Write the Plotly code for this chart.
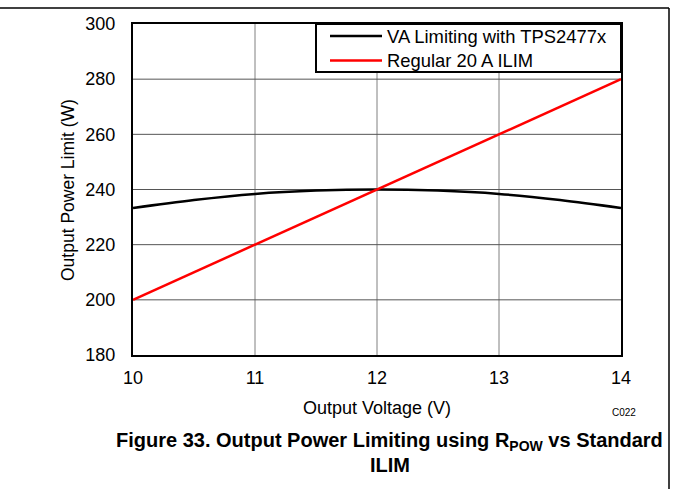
import plotly.graph_objects as go

# Series data
voltage_va = [10, 10.5, 11, 11.5, 12, 12.5, 13, 13.5, 14]
power_va = [233.3, 236.2, 238.4, 239.6, 240.0, 239.6, 238.4, 236.2, 233.3]
voltage_ilim = [10, 14]
power_ilim = [200, 280]

series_names = ["VA Limiting with TPS2477x", "Regular 20 A ILIM"]
series_colors = ["#000000", "#ff0000"]

x_ticks = [10, 11, 12, 13, 14]
y_ticks = [180, 200, 220, 240, 260, 280, 300]

W, H = 673, 489
L, R, T, B = 133, 621, 24, 355  # plot area in pixels
FONT = "Liberation Sans, Arial, sans-serif"


def px(x):
    return (x - L) / (R - L)


def py(y):
    return (B - y) / (B - T)


fig = go.Figure()
fig.add_trace(go.Scatter(x=voltage_va, y=power_va, mode="lines", name=series_names[0],
                         line=dict(color=series_colors[0], width=2.5, shape="spline"),
                         showlegend=False))
fig.add_trace(go.Scatter(x=voltage_ilim, y=power_ilim, mode="lines", name=series_names[1],
                         line=dict(color=series_colors[1], width=2.5),
                         showlegend=False))

shapes = []
annotations = []

# vertical / horizontal grid lines
for xv in x_ticks[1:-1]:
    shapes.append(dict(type="line", xref="x", yref="paper", x0=xv, x1=xv, y0=0, y1=1,
                       line=dict(color="#808080", width=1), layer="below"))
for yv in y_ticks[1:-1]:
    shapes.append(dict(type="line", xref="paper", yref="y", x0=0, x1=1, y0=yv, y1=yv,
                       line=dict(color="#555555", width=1), layer="below"))

# legend box
shapes.append(dict(type="rect", xref="paper", yref="paper",
                   x0=px(316), x1=px(621), y0=py(72), y1=py(24),
                   line=dict(color="black", width=2), fillcolor="white", layer="above"))
for i, (name, col) in enumerate(zip(series_names, series_colors)):
    yy = 36 + i * 24.5
    shapes.append(dict(type="line", xref="paper", yref="paper",
                       x0=px(330), x1=px(382), y0=py(yy), y1=py(yy),
                       line=dict(color=col, width=2.5), layer="above"))
    annotations.append(dict(xref="paper", yref="paper", x=px(385), y=py(yy),
                            xanchor="left", yanchor="middle", showarrow=False,
                            text=name, font=dict(family=FONT, size=18.4, color="black")))

# page frame
shapes.append(dict(type="line", xref="paper", yref="paper", x0=px(0), x1=px(669),
                   y0=py(8), y1=py(8), line=dict(color="black", width=1.5)))
shapes.append(dict(type="line", xref="paper", yref="paper", x0=px(669), x1=px(669),
                   y0=py(8), y1=py(489), line=dict(color="black", width=1.5)))

# axis titles
annotations.append(dict(xref="paper", yref="paper", x=px(377), y=py(408),
                        xanchor="center", yanchor="middle", showarrow=False,
                        text="Output Voltage (V)", font=dict(family=FONT, size=18, color="black")))
annotations.append(dict(xref="paper", yref="paper", x=px(68), y=py(190),
                        xanchor="center", yanchor="middle", showarrow=False, textangle=-90,
                        text="Output Power Limit (W)", font=dict(family=FONT, size=17.5, color="black")))
annotations.append(dict(xref="paper", yref="paper", x=px(624), y=py(412),
                        xanchor="center", yanchor="middle", showarrow=False,
                        text="C022", font=dict(family=FONT, size=10, color="black")))

# figure caption
annotations.append(dict(xref="paper", yref="paper", x=px(389), y=py(441),
                        xanchor="center", yanchor="middle", showarrow=False,
                        text="<b>Figure 33. Output Power Limiting using R<sub>POW</sub> vs Standard</b>",
                        font=dict(family=FONT, size=20, color="black")))
annotations.append(dict(xref="paper", yref="paper", x=px(390), y=py(465),
                        xanchor="center", yanchor="middle", showarrow=False,
                        text="<b>ILIM</b>",
                        font=dict(family=FONT, size=20, color="black")))

fig.update_layout(
    width=W, height=H,
    margin=dict(l=L, r=W - R, t=T, b=H - B),
    paper_bgcolor="white", plot_bgcolor="white",
    showlegend=False,
    shapes=shapes, annotations=annotations,
    xaxis=dict(range=[10, 14], tickvals=x_ticks, showgrid=False, zeroline=False,
               showline=True, mirror=True, linecolor="black", linewidth=2,
               ticks="", ticklabelstandoff=5,
               tickfont=dict(family=FONT, size=18, color="black")),
    yaxis=dict(range=[180, 300], tickvals=y_ticks, showgrid=False, zeroline=False,
               showline=True, mirror=True, linecolor="black", linewidth=2,
               ticks="", ticklabelstandoff=12,
               tickfont=dict(family=FONT, size=18, color="black")),
)

fig.write_html("out.html")
